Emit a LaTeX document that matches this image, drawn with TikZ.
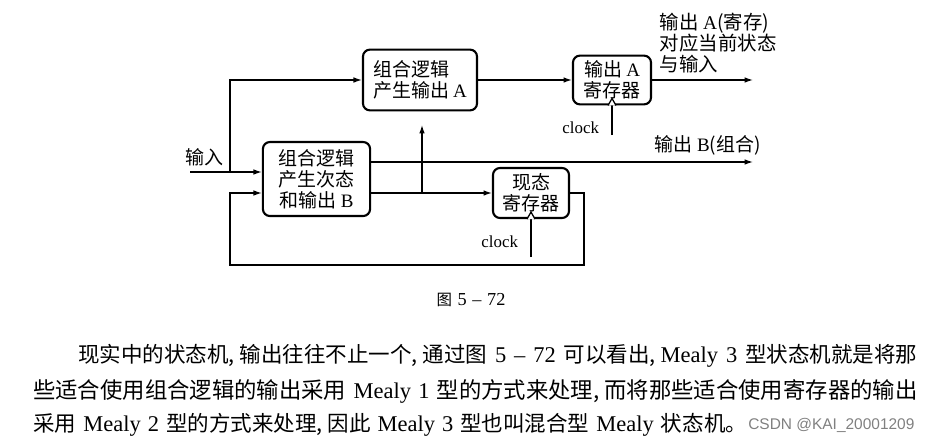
\documentclass[tikz,border=0pt]{standalone}
\usepackage{fontspec}
\setmainfont{Liberation Serif}
\newfontfamily\cjk{Noto Sans CJK SC}
\newfontfamily\wmfont{Liberation Sans}
\usetikzlibrary{calc, positioning, arrows.meta}
\newcommand{\lat}[1]{{\rmfamily #1}}
\newcommand{\en}[1]{{\rmfamily\fontsize{16}{18}\selectfont #1}}
\newcommand{\hc}{\makebox[0.5em][l]{,}}
\newcommand{\parfont}{\cjk\fontsize{15.3}{18}\selectfont\spaceskip=5pt plus 6pt\relax}
\newcommand{\capfont}{\cjk\fontsize{11}{14}\selectfont\spaceskip=4pt\relax}

\begin{document}
\begin{tikzpicture}[x=0.025cm, y=-0.025cm, font=\cjk\fontsize{13.5}{15}\selectfont,
  blk/.style={draw, line width=1.5pt, rounded corners=5pt, inner sep=0pt, align=center},
  wire/.style={line width=0.9pt},
  arr/.style={wire, -{Latex[length=6pt, width=4pt]}},
  clk/.style={font=\rmfamily\fontsize{12}{14}\selectfont},
  txt/.style={font=\parfont, anchor=west, inner sep=0pt}]
  \useasboundingbox (0,0) rectangle (948,442);

  % Blocks
  \node[blk, minimum width=2.85cm, minimum height=1.52cm, align=left] (comA) at (420,80) {组合逻辑\\产生输出 \lat{A}};
  \node[blk, minimum width=2.68cm, minimum height=1.85cm] (comB) at (316.5,179) {组合逻辑\\产生次态\\和输出 \lat{B}};
  \node[blk, minimum width=1.95cm, minimum height=1.22cm] (regA) at (612,80) {输出 \lat{A}\\寄存器};
  \node[blk, minimum width=1.9cm, minimum height=1.25cm] (regS) at (531,193) {现态\\寄存器};

  % Wire ends
  \coordinate (in) at (190,172);
  \coordinate (fork) at (230,172);
  \coordinate (outA) at (753,80);
  \coordinate (outB) at (753,162);
  \coordinate (up) at (422,125);
  \coordinate (fbR) at (584,265);
  \coordinate (fbL) at (230,265);
  \coordinate (clkA) at (612,135);
  \coordinate (clkS) at (531,257);

  % Signal paths
  \draw[arr] (in) -- (in -| comB.west);
  \draw[arr] (fork) |- (comA.west);
  \draw[arr] (comA.east) -- (regA.west);
  \draw[arr] (regA.east) -- (outA);
  \draw[arr] (comB.east |- outB) -- (outB);
  \draw[arr] (comB.east |- regS.west) -- (regS.west);
  \draw[arr] (up |- regS.west) -- (up);
  \draw[arr] (regS.east) -| (fbR) -- (fbL) |- (comB.west |- regS.west);

  % Clocks
  \draw[wire] (clkA) -- (regA.south);
  \draw[wire, fill=white] ($(regA.south)+(-4,0)$) -- ($(regA.south)+(0,-7)$) -- ($(regA.south)+(4,0)$);
  \draw[wire] (clkS) -- (regS.south);
  \draw[wire, fill=white] ($(regS.south)+(-4,0)$) -- ($(regS.south)+(0,-7)$) -- ($(regS.south)+(4,0)$);
  \node[clk, anchor=east] (clkAtxt) at (604,128) {clock};
  \node[clk, anchor=east] (clkStxt) at (523,242) {clock};

  % Labels
  \node (inlbl) at (204,157) {输入};
  \node[anchor=west] (outBlbl) at (650,145) {输出 \lat{B}(组合)};
  \node[anchor=north west, align=left, font=\cjk\fontsize{13.8}{15}\selectfont] (outAlbl) at (655,8) {输出 \lat{A}(寄存)\\对应当前状态\\与输入};
  \node[font=\capfont] (cap) at (471,300) {图 \en{\fontsize{13}{15}\selectfont 5 -- 72}};

  % Text below
  \node[txt] (p1) at (78,356) {\makebox[20.975cm][s]{现实中的状态机\hc 输出往往不止一个\hc 通过图 \en{5 -- 72} 可以看出\hc\en{Mealy 3} 型状态机就是将那}};
  \node[txt] (p2) at (33,391) {\fontsize{15.9}{18}\selectfont\makebox[22.1cm][s]{些适合使用组合逻辑的输出采用 \en{Mealy 1} 型的方式来处理\hc 而将那些适合使用寄存器的输出}};
  \node[txt] (p3) at (33,425) {采用 \en{Mealy 2} 型的方式来处理\hc 因此 \en{Mealy 3} 型也叫混合型 \en{Mealy} 状态机。};
  \node[anchor=west, inner sep=0pt, font=\wmfont\fontsize{11}{13}\selectfont, text=gray] (wm) at (748,425) {CSDN @KAI\_20001209};
\end{tikzpicture}
\end{document}
